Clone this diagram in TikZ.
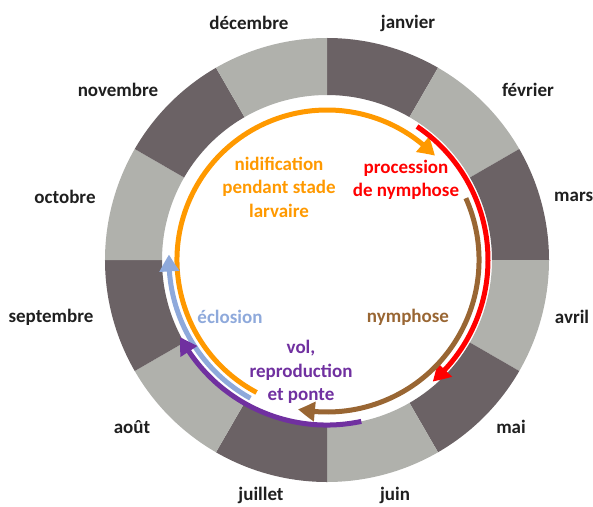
\documentclass[tikz,border=0pt]{standalone}
\usepackage{fontspec}
\setmainfont{Carlito}
\usetikzlibrary{arrows.meta,bending}
\definecolor{segdark}{RGB}{107,98,101}
\definecolor{seglight}{RGB}{176,177,172}
\definecolor{cOrange}{RGB}{255,153,0}
\definecolor{cRed}{RGB}{255,0,0}
\definecolor{cBrown}{RGB}{153,102,51}
\definecolor{cPurple}{RGB}{112,48,160}
\definecolor{cBlue}{RGB}{142,169,219}
\begin{document}
\begin{tikzpicture}[
  month/.style={font=\bfseries\fontsize{19}{21}\selectfont, text=black!88, inner sep=0pt},
  phase/.style={font=\bfseries\fontsize{19}{23.5}\selectfont, align=center, inner sep=0pt},
  cyc/.style={line width=5pt, -{Triangle[length=17pt,width=19pt,bend]}}
]
\useasboundingbox (-327pt,-246pt) rectangle (266pt,260pt);
% ring of months
\foreach \i in {0,...,11}{
  \pgfmathsetmacro{\a}{90-30*\i}
  \pgfmathsetmacro{\b}{60-30*\i}
  \pgfmathtruncatemacro{\odd}{mod(\i,2)}
  \ifnum\odd=0 \def\segcol{segdark}\else\def\segcol{seglight}\fi
  \fill[\segcol] (\a:165pt) -- (\a:222pt) arc[start angle=\a, end angle=\b, radius=222pt] -- (\b:165pt) arc[start angle=\b, end angle=\a, radius=165pt] -- cycle;
}
% month labels
\node[month] (jan) at (81pt,237pt) {janvier};
\node[month] (dec) at (-78pt,237pt) {décembre};
\node[month] (feb) at (201pt,170pt) {février};
\node[month] (nov) at (-209pt,170pt) {novembre};
\node[month] (oct) at (-262pt,63pt) {octobre};
\node[month, anchor=west] (mar) at (227pt,63pt) {mars};
\node[month] (sep) at (-276pt,-57pt) {septembre};
\node[month] (apr) at (245pt,-57pt) {avril};
\node[month] (aug) at (-195pt,-167pt) {août};
\node[month] (may) at (184pt,-167pt) {mai};
\node[month] (jul) at (-66pt,-235pt) {juillet};
\node[month] (jun) at (68pt,-235pt) {juin};
% cycle arcs
\coordinate (orS) at (242:150pt);
\coordinate (reS) at (56:161pt);
\coordinate (brS) at (24:152pt);
\coordinate (puS) at (-78:165pt);
\coordinate (blS) at (241:158pt);
\draw[cyc, cOrange] (orS) arc[start angle=242, end angle=44, radius=150pt];
\draw[cyc, cRed] (reS) arc[start angle=56, end angle=-49, radius=161pt];
\draw[cyc, cBrown] (brS) arc[start angle=24, end angle=-101, radius=152pt];
\draw[cyc, cBlue] (blS) arc[start angle=241, end angle=178, radius=158pt];
\draw[cyc, cPurple] (puS) arc[start angle=-78, end angle=-152, radius=166pt];
% phase labels
\node[phase, text=cOrange] (nid) at (-48pt,73pt) {nidification\\pendant stade\\larvaire};
\node[phase, text=cRed] (proc) at (79pt,80pt) {procession\\de nymphose};
\node[phase, text=cBrown] (nym) at (81pt,-57pt) {nymphose};
\node[phase, text=cBlue] (ecl) at (-97pt,-57pt) {éclosion};
\node[phase, text=cPurple] (vol) at (-26pt,-112pt) {vol,\\reproduction\\et ponte};
\end{tikzpicture}
\end{document}
